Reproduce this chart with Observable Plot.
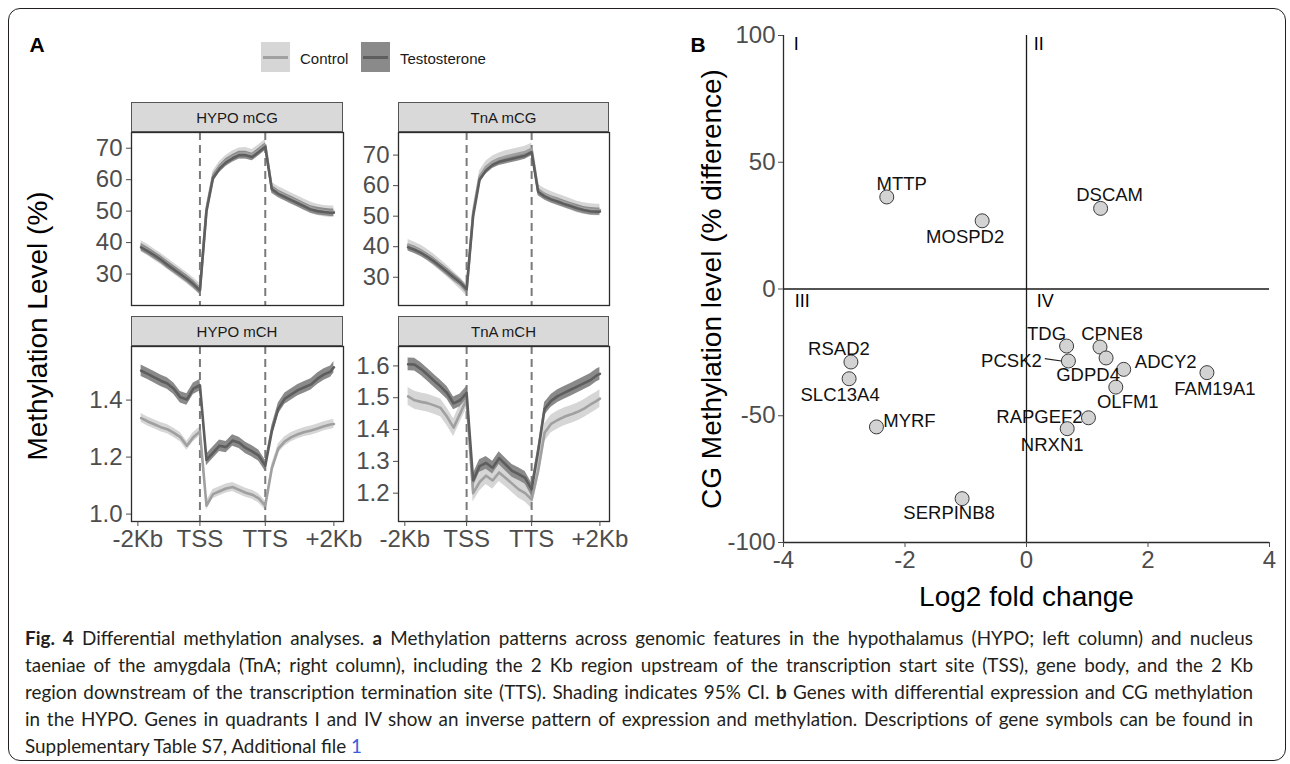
<!DOCTYPE html>
<html><head><meta charset="utf-8">
<script src="https://cdn.jsdelivr.net/npm/d3@7"></script>
<script src="https://cdn.jsdelivr.net/npm/@observablehq/plot@0.6"></script>
<style>
html,body{margin:0;padding:0;background:#fff;}
#root{position:relative;width:1290px;height:764px;overflow:hidden;background:#fff;font-family:"Liberation Sans",Arial,sans-serif;}
.strip{position:absolute;box-sizing:border-box;background:#d9d9d9;border:1px solid #555;font-size:15px;color:#1a1a1a;display:flex;align-items:center;justify-content:center;}
.cap{position:absolute;left:25px;width:1228px;font-family:Lato,"Open Sans",sans-serif;color:#231f20;text-align:justify;text-align-last:justify;line-height:27px;white-space:normal;}
.cap.last{text-align:left;text-align-last:left;}
.key{position:absolute;width:29px;height:30px;}
.key i{position:absolute;left:2px;right:2px;top:14px;height:2.5px;}
</style></head>
<body><div id="root"></div>
<script>
// ---------- Panel A data ----------
const facets = ["HYPO mCG", "TnA mCG", "HYPO mCH", "TnA mCH"];
const groups = ["Control", "Testosterone"];
const bins = [1,3,5,7,9,11,13,15,17,19,21,23,25,27,29,31,33,35,37,39,41,43,45,47,49,51,53,55,57,59,60];
const tickPos = [0, 19, 39, 60];
const tickLabels = ["-2Kb", "TSS", "TTS", "+2Kb"];

const hypoCG_control = [38.8,37.6,36.2,34.8,33.3,31.7,30.2,28.7,27.0,25.2,50.5,61,64,66,67.3,68.3,68.4,67.8,69.3,71,57.3,56,55,54,53,52,51,50.4,50,49.8,49.8];
const hypoCG_testosterone = [38.5,37.3,36.0,34.6,33.0,31.5,30.0,28.5,26.8,24.8,50,60.5,63.5,65.5,66.8,67.8,67.8,67.2,68.8,70.5,57,55.5,54.5,53.5,52.5,51.5,50.5,50,49.7,49.5,49.5];
const tnaCG_control = [40.5,39.6,38.6,37.2,35.6,33.8,32.0,30.0,28.0,25.8,51,63,66.2,67.8,68.8,69.5,70,70.5,71,72,58.5,57.2,56.2,55.4,54.6,53.8,53,52.5,52.2,52,52];
const tnaCG_testosterone = [39.8,39.0,38.0,36.7,35.2,33.5,31.8,30.0,28.3,26.0,50,62,65,66.8,67.8,68.3,68.8,69.3,69.8,71,58,56.5,55.5,54.8,54,53.3,52.6,52,51.6,51.5,51.5];
const hypoCH_control = [1.337,1.325,1.315,1.305,1.298,1.285,1.27,1.24,1.27,1.29,1.03,1.07,1.08,1.09,1.095,1.085,1.075,1.068,1.055,1.03,1.16,1.23,1.255,1.27,1.28,1.288,1.293,1.3,1.308,1.314,1.316];
const hypoCH_testosterone = [1.503,1.492,1.48,1.468,1.458,1.44,1.41,1.402,1.44,1.452,1.19,1.215,1.24,1.235,1.258,1.25,1.232,1.22,1.205,1.17,1.29,1.37,1.405,1.42,1.435,1.445,1.455,1.475,1.49,1.5,1.515];
const tnaCH_control = [1.504,1.492,1.487,1.483,1.476,1.468,1.44,1.406,1.45,1.495,1.2,1.235,1.255,1.24,1.265,1.248,1.23,1.212,1.2,1.18,1.27,1.39,1.418,1.43,1.44,1.447,1.455,1.465,1.478,1.49,1.497];
const tnaCH_testosterone = [1.605,1.604,1.59,1.572,1.553,1.535,1.515,1.482,1.492,1.515,1.24,1.285,1.295,1.28,1.31,1.29,1.27,1.26,1.248,1.212,1.33,1.465,1.49,1.505,1.515,1.525,1.535,1.545,1.555,1.57,1.575];
// 95% CI half-widths per facet (same order as facets)
const ciControl = [1.8, 1.9, 0.016, 0.028];
const ciTestosterone = [1.2, 1.2, 0.02, 0.02];
const yTicksA = [[30,40,50,60,70],[30,40,50,60,70],[1.0,1.2,1.4],[1.2,1.3,1.4,1.5,1.6]];

// ---------- Panel B data ----------
const genes = ["MTTP","MOSPD2","DSCAM","RSAD2","SLC13A4","MYRF","SERPINB8","TDG","CPNE8","PCSK2","GDPD4","ADCY2","OLFM1","FAM19A1","RAPGEF2","NRXN1"];
const log2fc = [-2.30,-0.73,1.22,-2.89,-2.92,-2.47,-1.06,0.66,1.21,0.69,1.31,1.60,1.47,2.97,1.02,0.67];
const cgDiff = [36.3,26.9,31.8,-28.8,-35.4,-54.4,-82.7,-22.5,-22.9,-28.4,-27.2,-31.7,-38.7,-33.0,-50.8,-55.1];
const quadLabels = ["I","II","III","IV"];
const quadX = [-3.79, 0.2, -3.69, 0.31];
const quadY = [96.6, 96.6, -4.7, -4.7];
const xTicksB = [-4,-2,0,2,4];
const yTicksB = [-100,-50,0,50,100];
// label offsets (pixels) in the style of ggrepel
const labelDx = [15,-17,9,-12,-9,33,-13,-20,12,-57,-18,42,12,8,-49,-15];
const labelDy = [-13,16,-13,-13,16,-6,14,-12,-13,0,17,-7,15,16,-1,16];

// ---------- build ----------
const root = document.getElementById("root");
const FONT = "'Liberation Sans', Arial, sans-serif";
const seriesC = [hypoCG_control, tnaCG_control, hypoCH_control, tnaCH_control];
const seriesT = [hypoCG_testosterone, tnaCG_testosterone, hypoCH_testosterone, tnaCH_testosterone];
const rows = facets.flatMap((f, i) => groups.flatMap(g => {
  const vals = g === "Control" ? seriesC[i] : seriesT[i];
  const ci = g === "Control" ? ciControl[i] : ciTestosterone[i];
  return bins.map((x, j) => ({facet: f, group: g, x, y: vals[j], lo: vals[j] - ci, hi: vals[j] + ci}));
}));

function el(tag, css, html) { const e = document.createElement(tag); e.style.cssText = css; if (html != null) e.innerHTML = html; root.append(e); return e; }
const hyphen = d => String(d).replace("\u2212", "-");

// outer rounded border
el("div", "position:absolute;left:8px;top:8px;width:1278px;height:753px;box-sizing:border-box;border:1.5px solid #231f20;border-radius:12px;");

// panel letters
el("div", "position:absolute;left:37px;top:45px;transform:translate(-50%,-50%);font:bold 21px " + FONT + ";color:#000;", "A");
el("div", "position:absolute;left:698px;top:45px;transform:translate(-50%,-50%);font:bold 21px " + FONT + ";color:#000;", "B");

// legend
const ctrlFill = "#d6d6d6", ctrlLine = "#a0a0a0", testoFill = "#8a8a8a", testoLine = "#5e5e5e";
const k1 = el("div", "left:261px;top:42px;background:" + ctrlFill + ";"); k1.className = "key"; k1.innerHTML = "<i style='background:" + ctrlLine + "'></i>";
el("div", "position:absolute;left:300px;top:58px;transform:translateY(-50%);font:15px " + FONT + ";color:#1a1a1a;", groups[0]);
const k2 = el("div", "left:361px;top:42px;background:" + testoFill + ";"); k2.className = "key"; k2.innerHTML = "<i style='background:" + testoLine + "'></i>";
el("div", "position:absolute;left:400px;top:58px;transform:translateY(-50%);font:15px " + FONT + ";color:#1a1a1a;", groups[1]);

// shared y title of panel A
el("div", "position:absolute;left:38px;top:326px;transform:translate(-50%,-50%) rotate(-90deg);white-space:nowrap;font:28px " + FONT + ";color:#000;", "Methylation Level (%)");

const colX = [131, 398], colW = [212, 211];
const rowY = [132, 346], rowH = [173, 175];
const yDomains = [[20, 75], [20.75, 77.4], [0.974, 1.588], [1.111, 1.661]];

facets.forEach((name, i) => {
  const col = i % 2, row = Math.floor(i / 2);
  const mL = 60, mB = row === 1 ? 40 : 0;
  const data = rows.filter(d => d.facet === name);
  const ctrl = data.filter(d => d.group === "Control");
  const testo = data.filter(d => d.group === "Testosterone");
  const fmt = row === 1 ? d3.format(".1f") : d3.format("d");
  const marks = [
    Plot.areaY(ctrl, {x: "x", y1: "lo", y2: "hi", fill: ctrlFill}),
    Plot.areaY(testo, {x: "x", y1: "lo", y2: "hi", fill: testoFill}),
    Plot.ruleX([tickPos[1], tickPos[2]], {stroke: "#7a7a7a", strokeWidth: 2, strokeDasharray: "8,5"}),
    Plot.line(ctrl, {x: "x", y: "y", stroke: ctrlLine, strokeWidth: 2.6}),
    Plot.line(testo, {x: "x", y: "y", stroke: testoLine, strokeWidth: 2.6}),
    Plot.frame({stroke: "#2b2b2b", strokeWidth: 1.3}),
    Plot.axisY({ticks: yTicksA[i], tickFormat: fmt, tickSize: 5, tickPadding: 4, fontSize: 24, color: "#4d4d4d", label: null})
  ];
  if (row === 1) marks.push(Plot.axisX({ticks: tickPos, tickFormat: d => tickLabels[tickPos.indexOf(d)], tickSize: 5, tickPadding: 3, fontSize: 24, color: "#4d4d4d", label: null}));
  const p = Plot.plot({
    width: colW[col] + mL, height: rowH[row] + mB,
    marginLeft: mL, marginRight: 0, marginTop: 0, marginBottom: mB,
    style: {fontFamily: FONT, background: "transparent", overflow: "visible"},
    x: {domain: [-1.95, 62.95], axis: row === 1 ? undefined : null},
    y: {domain: yDomains[i]},
    marks
  });
  p.style.position = "absolute";
  p.style.left = (colX[col] - mL) + "px";
  p.style.top = rowY[row] + "px";
  root.append(p);
  const s = el("div", "left:" + colX[col] + "px;top:" + (rowY[row] - 30) + "px;width:" + colW[col] + "px;height:30px;", name);
  s.className = "strip";
});

// ---------- Panel B ----------
const pts = genes.map((g, i) => ({gene: g, x: log2fc[i], y: cgDiff[i]}));
const quads = quadLabels.map((q, i) => ({q, x: quadX[i], y: quadY[i]}));
const bW = 486, bH = 507, bL = 100, bT = 12, bR = 15, bB = 80;
const pxX = 8 / bW, pxY = 200 / bH;
const pc = pts.find(d => d.gene === "PCSK2");
const leader = [{x1: pc.x - 23.6 * pxX, y1: pc.y + 2.3 * pxY, x2: pc.x - 7 * pxX, y2: pc.y}];
const labelMarks = pts.map((d, i) => Plot.text([d], {x: "x", y: "y", text: "gene", dx: labelDx[i], dy: labelDy[i], fontSize: 18.5, fill: "#111"}));
const pb = Plot.plot({
  width: bW + bL + bR, height: bH + bT + bB,
  marginLeft: bL, marginRight: bR, marginTop: bT, marginBottom: bB,
  style: {fontFamily: FONT, background: "transparent", overflow: "visible"},
  x: {domain: [-4, 4]},
  y: {domain: [-100, 100]},
  marks: [
    Plot.ruleX([0], {stroke: "#1a1a1a", strokeWidth: 1.3}),
    Plot.ruleY([0], {stroke: "#1a1a1a", strokeWidth: 1.3}),
    Plot.ruleX([-4], {stroke: "#2b2b2b", strokeWidth: 1.3}),
    Plot.ruleY([-100], {stroke: "#2b2b2b", strokeWidth: 1.3}),
    Plot.axisX({ticks: xTicksB, tickFormat: hyphen, tickSize: 5, tickPadding: 3, fontSize: 24, color: "#4d4d4d", label: null}),
    Plot.axisY({ticks: yTicksB, tickFormat: hyphen, tickSize: 5, tickPadding: 3, fontSize: 24, color: "#4d4d4d", label: null}),
    Plot.link(leader, {x1: "x1", y1: "y1", x2: "x2", y2: "y2", stroke: "#222", strokeWidth: 1.2}),
    Plot.dot(pts, {x: "x", y: "y", r: 7, fill: "#d3d3d3", stroke: "#3a3a3a", strokeWidth: 1}),
    ...labelMarks,
    Plot.text(quads, {x: "x", y: "y", text: "q", fontSize: 18, fill: "#000"}),
    Plot.text(["CG Methylation level (% difference)"], {frameAnchor: "left", textAnchor: "middle", lineAnchor: "middle", rotate: -90, dx: -71, fontSize: 28, fill: "#000"}),
    Plot.text(["Log2 fold change"], {frameAnchor: "bottom", textAnchor: "middle", lineAnchor: "middle", dy: 55, fontSize: 28, fill: "#000"})
  ]
});
pb.style.position = "absolute";
pb.style.left = (783 - bL) + "px";
pb.style.top = (35 - bT) + "px";
root.append(pb);

// ---------- caption ----------
const capLines = [
  "<b>Fig. 4</b> Differential methylation analyses. <b>a</b> Methylation patterns across genomic features in the hypothalamus (HYPO; left column) and nucleus",
  "taeniae of the amygdala (TnA; right column), including the 2 Kb region upstream of the transcription start site (TSS), gene body, and the 2 Kb",
  "region downstream of the transcription termination site (TTS). Shading indicates 95% CI. <b>b</b> Genes with differential expression and CG methylation",
  "in the HYPO. Genes in quadrants I and IV show an inverse pattern of expression and methylation. Descriptions of gene symbols can be found in",
  "Supplementary Table S7, Additional file <span style='color:#3b5bdb'>1</span>"
];
const ctx = document.createElement("canvas").getContext("2d");
const baseFs = 16;
ctx.font = baseFs + "px Lato";
const natural = Math.max(...capLines.slice(0, 4).map(l => ctx.measureText(l.replace(/<[^>]+>/g, "")).width));
let fs = Math.min(19, baseFs * 1200 / natural);
capLines.forEach((l, i) => {
  const d = el("div", "top:" + (624 + i * 27) + "px;font-size:" + fs.toFixed(2) + "px;", l);
  d.className = "cap" + (i === 4 ? " last" : "");
});
</script>
</body></html>
